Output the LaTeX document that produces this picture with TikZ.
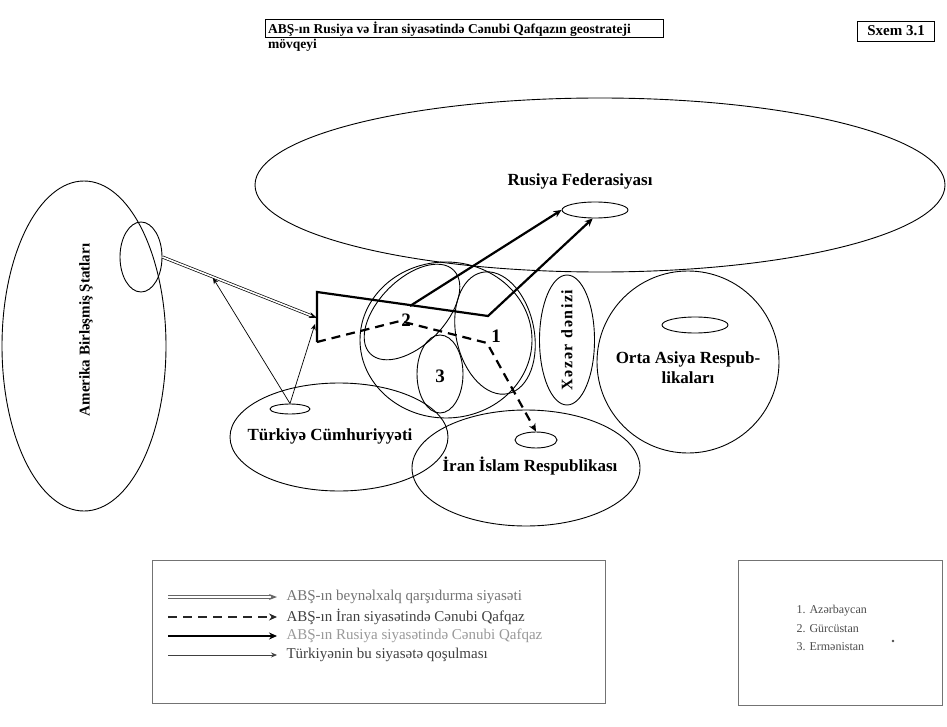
\documentclass[tikz,border=0pt]{standalone}
\usepackage{fontspec}
\setmainfont{Liberation Serif}
\usetikzlibrary{arrows.meta,positioning,shapes.geometric}

\begin{document}
\begin{tikzpicture}[
  x=1pt, y=-1pt,
  >=Stealth,
  every node/.style={font=\fontsize{17}{20}\selectfont\bfseries},
  region/.style={draw, ellipse, inner sep=0pt, line width=0.9pt},
  frame/.style={draw, line width=0.8pt, inner sep=0pt},
  numlbl/.style={font=\fontsize{19}{21}\selectfont\bfseries},
  intl/.style={double, double distance=1.6pt, line width=0.7pt,
               -{Stealth[length=8pt,width=6pt]}},
  iranpol/.style={line width=2.2pt, dash pattern=on 9pt off 6pt,
               -{Stealth[length=8pt,width=7pt]}},
  ruspol/.style={line width=2.2pt, -{Stealth[length=8pt,width=7pt]}},
  turkpol/.style={line width=0.7pt, -{Stealth[length=6pt,width=5pt]}},
  legtext/.style={font=\fontsize{15}{17}\selectfont, anchor=west},
  keytext/.style={font=\fontsize{12}{14}\selectfont, anchor=west, black!70},
]
\useasboundingbox (0,0) rectangle (947,727);

% Title
\node[frame, anchor=north west, minimum width=398pt, minimum height=18pt] (titlebox) at (265,19) {};
\node[anchor=north west, align=left, inner sep=0pt, font=\fontsize{13.5}{15}\selectfont\bfseries]
  (title) at (268,22) {ABŞ-ın Rusiya və İran siyasətində Cənubi Qafqazın geostrateji\\mövqeyi};
\node[frame, minimum width=77pt, minimum height=20pt, font=\fontsize{15}{17}\selectfont\bfseries]
  (sxem) at (896,31) {Sxem 3.1};

% Regions
\node[region, minimum width=164pt, minimum height=330pt] (usa) at (84,346) {};
\node[rotate=90, font=\fontsize{15}{17}\selectfont\bfseries] (usalbl) at (86,330) {Amerika Birləşmiş Ştatları};
\node[region, minimum width=42pt, minimum height=70pt] (usaspot) at (141,257) {};

\node[region, minimum width=690pt, minimum height=174pt] (rf) at (600,185) {};
\node (rflbl) at (580,181) {Rusiya Federasiyası};
\node[region, minimum width=66pt, minimum height=16pt] (rfspot) at (595,210) {};

\node[region, minimum width=172pt, minimum height=156pt] (qaf) at (446,340) {};
\node[region, rotate=45, minimum width=118pt, minimum height=66pt] (ge) at (412,312) {};
\node[region, rotate=12, minimum width=78pt, minimum height=124pt] (az) at (495,333) {};
\node[region, minimum width=46pt, minimum height=78pt] (am) at (440,374) {};
\node[numlbl] (azlbl) at (496,336) {1};
\node[numlbl] (gelbl) at (406,320) {2};
\node[numlbl] (amlbl) at (440,376) {3};

\node[region, minimum width=55pt, minimum height=130pt] (xz) at (567,340) {};
\node[rotate=90, font=\fontsize{16}{18}\selectfont\bfseries\addfontfeature{LetterSpace=10}]
  (xzlbl) at (567,340) {Xəzər dənizi};

\node[region, minimum width=182pt, minimum height=182pt] (oa) at (688,362) {};
\node[region, minimum width=66pt, minimum height=16pt] (oaspot) at (695,325) {};
\node[align=center] (oalbl) at (688,368) {Orta Asiya Respub-\\likaları};

\node[region, minimum width=218pt, minimum height=108pt] (tr) at (339,437) {};
\node[region, minimum width=40pt, minimum height=10pt] (trspot) at (290,409) {};
\node (trlbl) at (330,436) {Türkiyə Cümhuriyyəti};

\node[region, minimum width=228pt, minimum height=116pt] (ir) at (526,468) {};
\node[region, minimum width=42pt, minimum height=16pt] (irspot) at (536,440) {};
\node (irlbl) at (530,466) {İran İslam Respublikası};

% Policy lines
\coordinate (hubtop) at (317,292);
\coordinate (hubmid) at (317,318);
\coordinate (hubbot) at (317,342);
\coordinate (bend) at (488,316);
\coordinate (gestart) at (410,306);
\coordinate (dashpeak) at (400,321);
\coordinate (dashturn) at (487,343);
\coordinate (usajoin) at (213,278);
\coordinate (hubjoin) at (315,324);

\draw[intl] (usaspot.east) -- (hubmid);
\draw[ruspol] (hubbot) -- (hubtop) -- (bend) -- (rfspot.255);
\draw[ruspol] (gestart) -- (rfspot.west);
\draw[iranpol] (hubbot) -- (dashpeak) -- (dashturn) -- (irspot.north);
\draw[turkpol] (trspot.north) -- (usajoin);
\draw[turkpol] (trspot.north) -- (hubjoin);

% Legend
\node[frame, draw=black!55, line width=1.2pt, anchor=north west,
  minimum width=453pt, minimum height=143pt] (legend) at (152,560) {};
\node[legtext, black!55] (t1) at (283,597) {ABŞ-ın beynəlxalq qarşıdurma siyasəti};
\node[legtext, black!75] (t2) at (283,617) {ABŞ-ın İran siyasətində Cənubi Qafqaz};
\node[legtext, black!40] (t3) at (283,636) {ABŞ-ın Rusiya siyasətində Cənubi Qafqaz};
\node[legtext, black!75] (t4) at (283,655) {Türkiyənin bu siyasətə qoşulması};
\coordinate (s1) at (168,597);
\coordinate (s2) at (168,617);
\coordinate (s3) at (168,636);
\coordinate (s4) at (168,655);
\draw[intl, black!60, line width=1.2pt, double distance=1.8pt, shorten >=6pt] (s1) -- (t1);
\draw[iranpol, black!85, shorten >=6pt] (s2) -- (t2);
\draw[ruspol, line width=1.6pt, shorten >=6pt] (s3) -- (t3);
\draw[turkpol, black!75, shorten >=6pt] (s4) -- (t4);

% Key of numbers
\node[frame, draw=black!55, line width=1.2pt, anchor=north west,
  minimum width=204pt, minimum height=145pt] (key) at (738,560) {};
\node[keytext] (k1) at (793,611) {1. Azərbaycan};
\node[keytext] (k2) at (793,629) {2. Gürcüstan};
\node[keytext] (k3) at (793,647) {3. Ermənistan};
\fill[black!70] (893,641) circle (1.3pt);

\end{tikzpicture}
\end{document}
